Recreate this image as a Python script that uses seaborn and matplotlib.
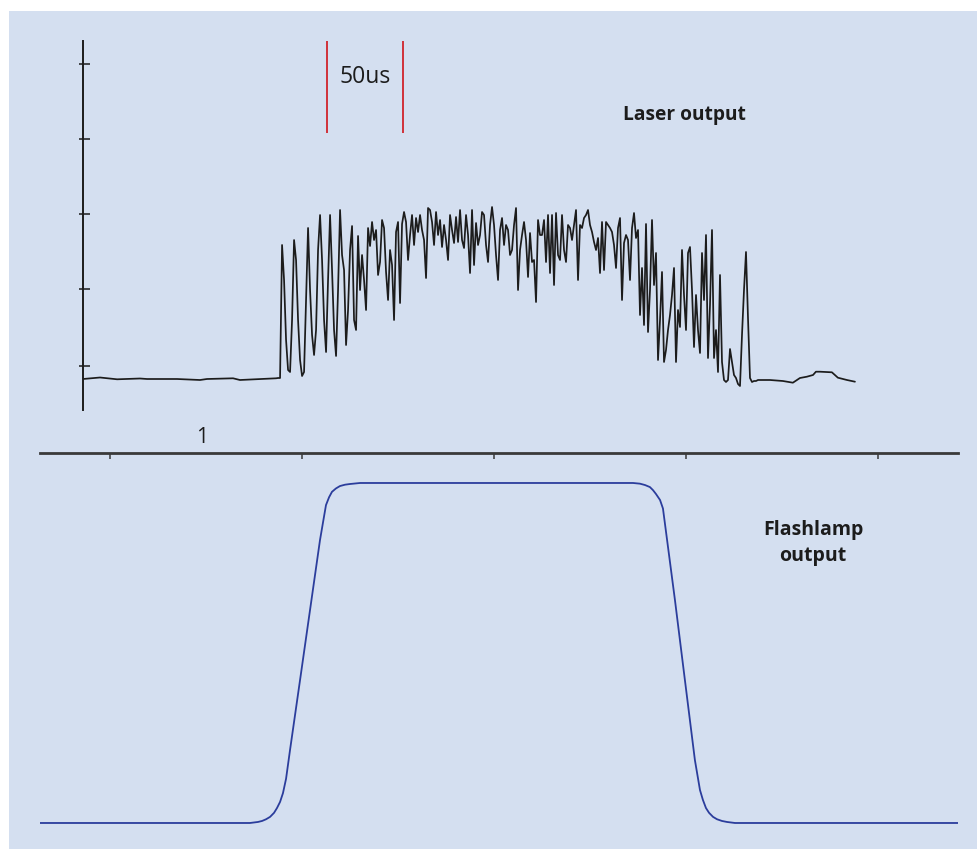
import numpy as np
import pandas as pd
import matplotlib
matplotlib.use("Agg")
import matplotlib.pyplot as plt
from matplotlib.patches import Rectangle
import seaborn as sns

# ---------------- data ----------------
# Laser output (arbitrary units, time in microseconds)
pre_t = [-17.6, -6.5, 4.6, 19.5, 24.1, 43.6, 58.6, 63.1, 80.1, 84.6, 108.1]
pre_v = [-13, -11.5, -13.3, -12.5, -13, -13, -14, -13, -12.3, -14, -12.3]

burst_t0 = 109.4      # first sample of the burst record
burst_dt = 1.302      # sampling interval
burst_v = [
    -12, -12, 121, 86, 26, -4, -6, 46, 126, 106,
    46, 6, -10, -6, 66, 138, 76, 31, 11, 36,
    116, 151, 106, 46, 14, 86, 151, 96, 36, 10,
    76, 156, 111, 96, 21, 56, 116, 140, 46, 36,
    130, 76, 111, 86, 56, 138, 120, 144, 126, 136,
    91, 104, 146, 138, 94, 66, 116, 101, 46, 134,
    144, 63, 142, 154, 144, 106, 131, 151, 121, 148,
    134, 151, 136, 126, 88, 158, 156, 144, 121, 154,
    131, 146, 119, 141, 126, 106, 151, 136, 123, 149,
    124, 156, 126, 118, 151, 131, 93, 156, 101, 143,
    121, 131, 154, 151, 121, 104, 141, 159, 141, 111,
    86, 136, 148, 121, 141, 136, 111, 116, 141, 158,
    76, 116, 131, 144, 126, 89, 133, 104, 106, 64,
    146, 131, 131, 146, 104, 151, 93, 151, 81, 153,
    111, 106, 151, 116, 104, 141, 138, 126, 141, 156,
    86, 141, 138, 148, 151, 156, 141, 134, 124, 116,
    128, 93, 144, 96, 144, 141, 138, 134, 121, 98,
    138, 148, 66, 123, 131, 126, 86, 138, 153, 128,
    136, 51, 98, 41, 142, 34, 76, 146, 81, 113,
    6, 46, 94, 4, 16, 36, 51, 71, 98, 4,
    56, 39, 116, 71, 36, 113, 119, 76, 19, 71,
    36, 13, 113, 66, 131, 8, 61, 136, 8, 36,
    -6, 91, 4, -14, -16, -14, 17, 4, -9, -12,
    -18, -20, 31, 76, 114, 48, -12, -16, -15, -15,
    -14, -14,
]

post_t = [429.7, 438.1, 444.6, 449.2, 453.7, 457.7, 459.6, 462.2, 470.0, 473.9, 479.8, 485.0]
post_v = [-14, -15, -16.7, -12, -10.7, -9, -5.7, -5.7, -6.3, -11.7, -14, -15.7]

# Flashlamp output (normalised)
flash_t = [-45.6, 91.1, 96.3, 99.0, 101.6, 104.2, 106.8, 108.7, 110.7, 112.6,
           114.6, 117.2, 123.7, 130.2, 136.7, 138.7, 140.6, 142.6, 144.5, 147.1,
           149.7, 153.0, 156.2, 162.8, 340.5, 345.0, 348.3, 351.5, 353.5, 355.4,
           358.1, 360.0, 367.8, 374.3, 380.8, 384.1, 386.0, 388.0, 390.0, 392.6,
           395.2, 398.4, 401.7, 406.9, 552.0]
flash_v = [0, 0, 0.003, 0.006, 0.011, 0.018, 0.03, 0.044, 0.062, 0.088,
           0.13, 0.215, 0.42, 0.626, 0.832, 0.885, 0.935, 0.958, 0.974, 0.984,
           0.991, 0.995, 0.997, 1.0, 1.0, 0.998, 0.994, 0.988, 0.979, 0.968,
           0.95, 0.925, 0.656, 0.42, 0.185, 0.097, 0.068, 0.044, 0.030, 0.018,
           0.011, 0.006, 0.003, 0, 0]

# time-scale tick marks and 50 us scale bar
time_ticks = [0, 125, 250, 375, 500]
laser_ticks = [0, 77, 152, 227, 302]
scale_bar_t = [141, 191]

# ---------------- build tables ----------------
burst_t = burst_t0 + burst_dt * np.arange(len(burst_v))
laser = pd.DataFrame({
    "t": np.concatenate([pre_t, burst_t, post_t]),
    "v": np.concatenate([pre_v, burst_v, post_v]),
})
flash = pd.DataFrame({"t": flash_t, "v": flash_v})

# ---------------- figure ----------------
sns.set_theme(style="white")
plt.rcParams['font.family'] = ['Open Sans', 'DejaVu Sans']

W, H = 978, 849
BG = '#d4dff0'
INK = '#1c1c1c'
fig = plt.figure(figsize=(W / 100, H / 100), dpi=100)
fig.patch.set_facecolor('white')
bg = Rectangle((9 / W, 0), 1 - 9 / W, 1 - 11 / H, transform=fig.transFigure,
               facecolor=BG, edgecolor='none', zorder=-10)
fig.add_artist(bg)


def box(x0, y0, x1, y1):
    return [x0 / W, 1 - y1 / H, (x1 - x0) / W, (y1 - y0) / H]


ax1 = fig.add_axes(box(83, 41, 958, 410))
ax2 = fig.add_axes(box(40, 453, 958, 849))
for ax in (ax1, ax2):
    ax.set_facecolor('none')
    ax.set_zorder(1)
    for s in ax.spines.values():
        s.set_visible(False)

# laser trace
sns.lineplot(data=laser, x="t", y="v", ax=ax1, color=INK,
             linewidth=1.25, estimator=None, sort=False)
ax1.set_xlim(-17.6, 552.1)
ax1.set_ylim(-44, 325)
ax1.spines['left'].set_visible(True)
ax1.spines['left'].set_color(INK)
ax1.spines['left'].set_linewidth(1.4)
ax1.yaxis.remove_overlapping_locs = False
ax1.set_yticks(laser_ticks)
ax1.set_yticks(laser_ticks, minor=True)
ax1.set_yticklabels([])
ax1.set_yticklabels([], minor=True)
ax1.set_xticks([])
ax1.tick_params(axis='y', which='major', left=True, direction='in',
                length=5.2, width=1.1, color=INK)
ax1.tick_params(axis='y', which='minor', left=True, direction='out',
                length=3.0, width=1.1, color=INK)
ax1.set_xlabel('')
ax1.set_ylabel('')

ax1.vlines(scale_bar_t, 233, 325, colors='#d0232b', linewidth=1.3, clip_on=False)
ax1.text(np.mean(scale_bar_t), 289, '50us', ha='center', va='center',
         fontsize=16.5, color=INK)
ax1.text(374, 251, 'Laser output', ha='center', va='center',
         fontsize=13.8, fontweight='bold', color=INK)

# flashlamp trace
sns.lineplot(data=flash, x="t", y="v", ax=ax2, color='#2b3d9c',
             linewidth=1.3, estimator=None, sort=False)
ax2.set_xlim(-45.6, 552.1)
ax2.set_ylim(-0.0765, 1.0882)
ax2.spines['top'].set_visible(True)
ax2.spines['top'].set_color('#3a3a3a')
ax2.spines['top'].set_linewidth(2)
ax2.xaxis.tick_top()
ax2.set_xticks(time_ticks)
ax2.set_xticklabels([])
ax2.set_yticks([])
ax2.tick_params(axis='x', top=True, bottom=False, direction='in', length=4,
                width=1.1, color='#3a3a3a', labeltop=False)
ax2.set_xlabel('')
ax2.set_ylabel('')
ax2.text(60, 1.135, '1', ha='center', va='center', fontsize=15,
         color=INK, clip_on=False)
ax2.text(457.7, 0.8235, 'Flashlamp\noutput', ha='center', va='center',
         multialignment='center', linespacing=1.35,
         fontsize=14, fontweight='bold', color=INK)

fig.savefig('out.png', dpi=100, facecolor=fig.get_facecolor())
